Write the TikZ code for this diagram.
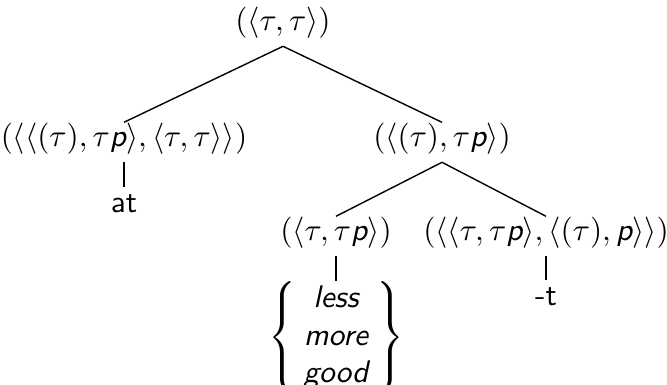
\documentclass[tikz,border=0pt]{standalone}
\newcommand{\tP}{\mbox{\sffamily\itshape p}}
\newcommand{\tauP}{\tau\tP}
\newcommand{\itsf}[1]{\mbox{\sffamily\itshape #1}}
\begin{document}
\begin{tikzpicture}[x=0.32pt,y=-0.32pt,
  cat/.style={font=\sffamily, inner sep=0.5pt, text height=7.2pt, text depth=4.2pt, anchor=base},
  word/.style={font=\sffamily, inner sep=0.5pt, text height=7.5pt, anchor=base},
  branch/.style={line width=0.45pt}]
  \useasboundingbox (0,0) rectangle (667,385);

  % categories
  \node[cat] (root) at (283,31)  {$(\langle\tau,\tau\rangle)$};
  \node[cat] (l)    at (124,147) {$(\langle\langle(\tau),\tauP\rangle,\langle\tau,\tau\rangle\rangle)$};
  \node[cat] (r)    at (442,147) {$(\langle(\tau),\tauP\rangle)$};
  \node[cat] (rl)   at (336,241) {$(\langle\tau,\tauP\rangle)$};
  \node[cat] (rr)   at (546,241) {$(\langle\langle\tau,\tauP\rangle,\langle(\tau),\tP\rangle\rangle)$};

  % lexical items
  \node[word] (at)  at (124,213) {at};
  \node[word] (t)   at (546,306) {-t};
  \node[inner sep=0pt, anchor=north] (adj) at (336,281)
    {$\arraycolsep=2.5pt\left\{\begin{array}{c}
      \itsf{less}\\
      \itsf{more}\\
      \itsf{good}
    \end{array}\right\}$};

  % branches
  \draw[branch] (root.south) -- (l.north);
  \draw[branch] (root.south) -- (r.north);
  \draw[branch] (r.south) -- (rl.north);
  \draw[branch] (r.south) -- (rr.north);
  \draw[branch] (l.south) -- (at.north);
  \draw[branch] (rl.south) -- (adj.north);
  \draw[branch] (rr.south) -- (t.north);
\end{tikzpicture}
\end{document}
